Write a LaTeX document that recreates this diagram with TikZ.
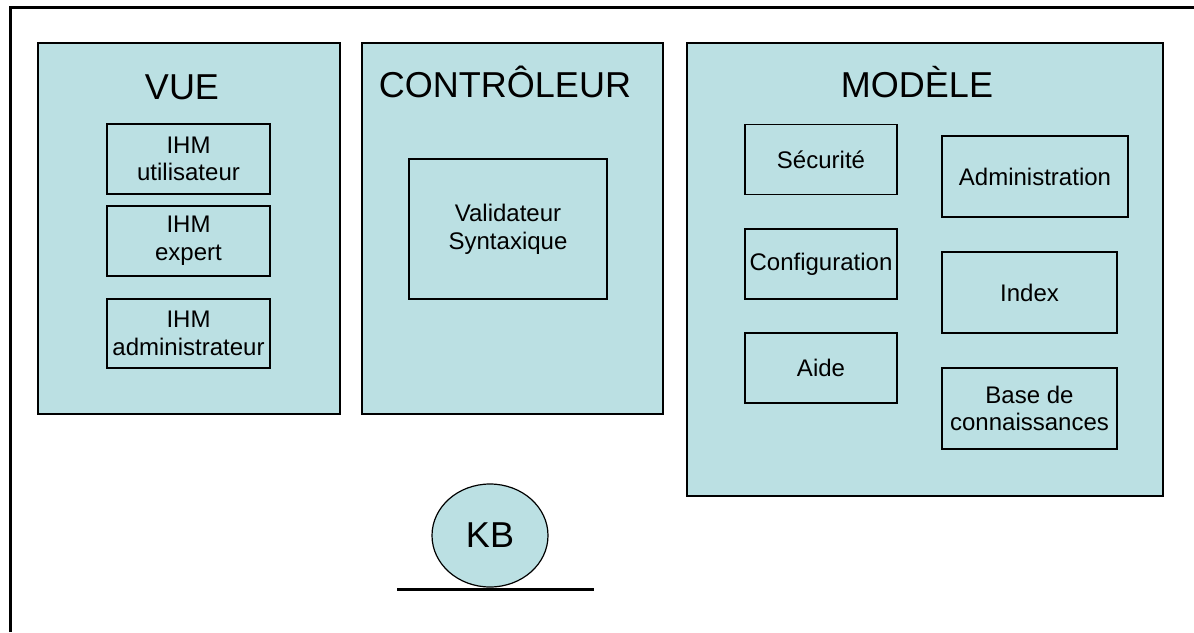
\documentclass[tikz,border=0pt]{standalone}
\usepackage{fontspec}
\setmainfont{Liberation Sans}
\usetikzlibrary{shapes.geometric}
\colorlet{layer colour}{rgb,255:red,187;green,224;blue,227}
\tikzset{
    % Sizes below are given in pixels of the original slide
    every node/.style={align=center},
    title font/.style={font=\fontsize{36}{40}\selectfont},
    small font/.style={font=\fontsize{24}{27.6}\selectfont},
}

\begin{document}
\begin{tikzpicture}[
    x=1pt, y=-1pt,
    layer/.style={draw, line width=2pt, fill=layer colour, inner sep=0},
    part/.style={draw, line width=1.2pt, small font, inner sep=1pt},
    title/.style={title font, anchor=base, inner sep=0},
    ]

\useasboundingbox (0,0) rectangle (1194,632);

% Frame of the slide, cut off on the right and at the bottom
\draw [line width=3pt] (10,632) |- (1194,7.5);

% The three layers
\node [layer, minimum width=302, minimum height=371] (vue) at (189,228.5) {};
\node [layer, minimum width=301, minimum height=371] (controleur) at (512.5,228.5) {};
\node [layer, minimum width=476, minimum height=453] (modele) at (925,269.5) {};

\node [title] (vue title) at (182,99) {VUE};
\node [title] (controleur title) at (505,97) {CONTRÔLEUR};
\node [title] (modele title) at (917,97) {MODÈLE};

% Vue
\node [part, minimum width=163, minimum height=70] (ihm user) at (188.5,159) {IHM\\utilisateur};
\node [part, minimum width=163, minimum height=70] (ihm expert) at (188.5,241) {IHM\\expert};
\node [part, minimum width=163, minimum height=69] (ihm admin) at (188.5,333.5) {IHM\\administrateur};

% Controleur
\node [part, minimum width=198, minimum height=140] (validateur) at (508,229) {Validateur\\Syntaxique};

% Modele
\foreach \n/\y/\t in {securite/159.5/Sécurité, config/264/Configuration, aide/368/Aide} {
    \node [part, minimum width=152, minimum height=70] (\n) at (821,\y) {\t};
}
\node [part, minimum width=186, minimum height=81] (administration) at (1035,176.5) {Administration};
\node [part, minimum width=175, minimum height=81] (index) at (1029.5,292.5) {Index};
\node [part, minimum width=175, minimum height=81] (base) at (1029.5,408.5) {Base de\\connaissances};

% Knowledge base resting on its line
\node [draw, ellipse, line width=1.2pt, fill=layer colour, title font,
    minimum width=116, minimum height=103, inner sep=0] (kb) at (490,535.5) {KB};
\draw [line width=3pt] (397,589) -- (594,589);

\end{tikzpicture}
\end{document}
